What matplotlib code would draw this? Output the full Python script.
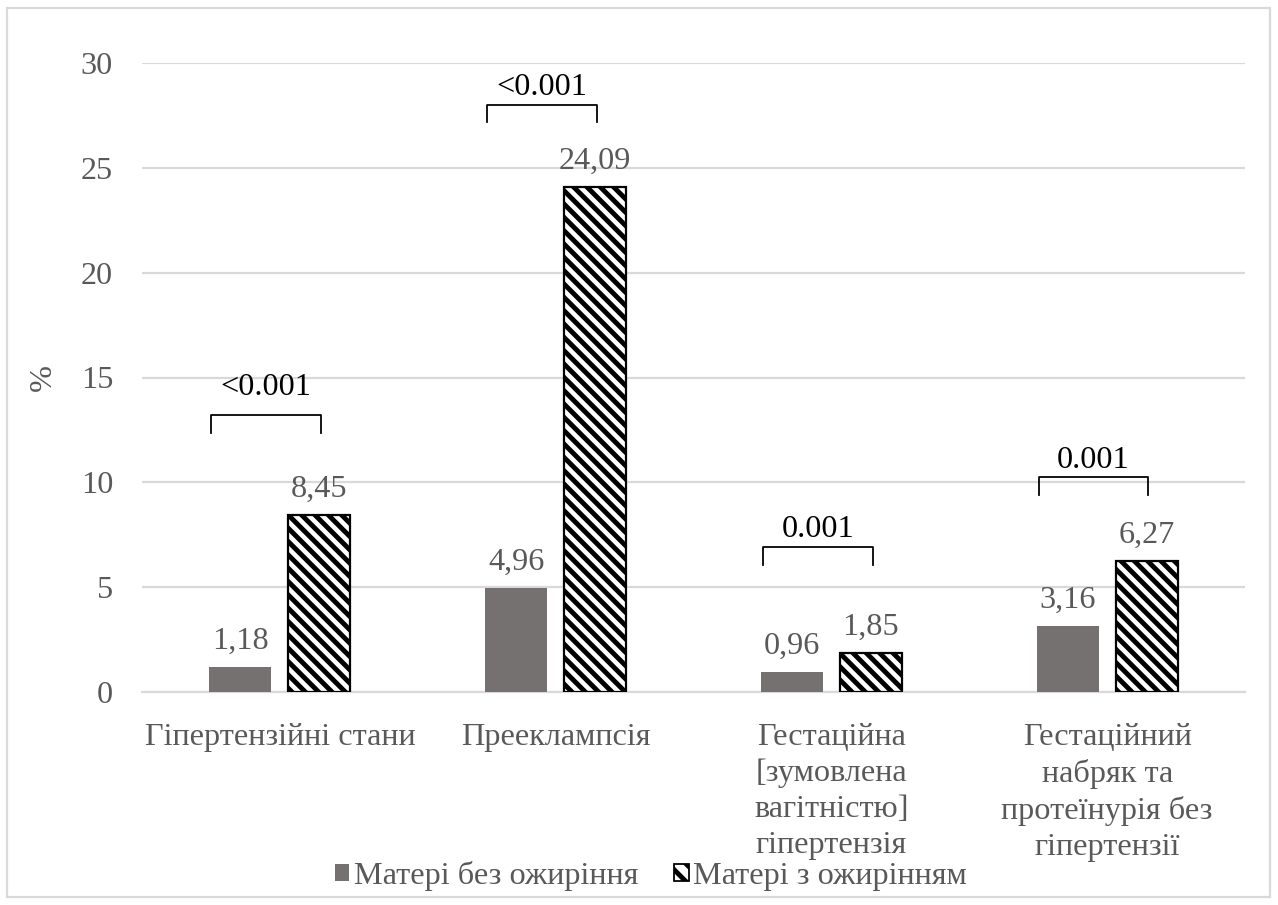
import matplotlib
matplotlib.use("Agg")
import matplotlib.pyplot as plt
from matplotlib.patches import Rectangle, Patch
import numpy as np

# ---- data ----
categories = [
    "Гіпертензійні стани",
    "Прееклампсія",
    "Гестаційна\n[зумовлена\nвагітністю]\nгіпертензія",
    "Гестаційний\nнабряк та\nпротеїнурія без\nгіпертензії",
]
no_obesity = [1.18, 4.96, 0.96, 3.16]
with_obesity = [8.45, 24.09, 1.85, 6.27]
p_values = ["<0.001", "<0.001", "0.001", "0.001"]
bracket_levels = [13.21, 28.02, 6.91, 10.25]
p_text_levels = [14.16, 28.45, 7.39, 10.68]
series_names = ["Матері без ожиріння", "Матері з ожирінням"]
y_ticks = [0, 5, 10, 15, 20, 25, 30]

# ---- style ----
DPI = 160
FS = 14.5
TXT = "#595959"
GRAY = "#767171"
GRID = "#d9d9d9"
HATCH = "\\\\\\\\"
plt.rcParams["font.family"] = ["Liberation Serif", "DejaVu Serif"]
plt.rcParams["hatch.linewidth"] = 2.2
plt.rcParams["hatch.color"] = "black"

fig = plt.figure(figsize=(1278 / DPI, 905 / DPI), dpi=DPI)
fig.patches.append(Rectangle((7 / 1278, 8 / 905), 1 - 15 / 1278, 1 - 16 / 905,
                             transform=fig.transFigure, fill=False,
                             edgecolor=GRID, linewidth=1.0, zorder=0))

ax = fig.add_axes([142 / 1278, 1 - 692 / 905, (1245 - 142) / 1278, (692 - 63) / 905])

x = np.arange(len(categories))
w = 0.225
off = 0.143

b1 = ax.bar(x - off, no_obesity, w, color=GRAY, edgecolor="none", zorder=3)
b2 = ax.bar(x + off, with_obesity, w, facecolor="white", edgecolor="black",
            hatch=HATCH, linewidth=1.0, zorder=3)

for bars, vals in ((b1, no_obesity), (b2, with_obesity)):
    for rect, v in zip(bars, vals):
        ax.annotate(f"{v:.2f}".replace(".", ","),
                    (rect.get_x() + rect.get_width() / 2, v),
                    xytext=(0, 5), textcoords="offset points",
                    ha="center", va="bottom", fontsize=FS, color=TXT)

# significance brackets
drop = 0.85
for xi, lvl, tl, p in zip(x, bracket_levels, p_text_levels, p_values):
    xl, xr = xi - 0.248, xi + 0.15
    ax.plot([xl, xl, xr, xr], [lvl - drop, lvl, lvl, lvl - drop],
            color="black", linewidth=0.8, zorder=4, clip_on=False)
    ax.text((xl + xr) / 2, tl, p, ha="center", va="baseline",
            fontsize=FS, color="black")

ax.set_xlim(-0.5, len(categories) - 0.5)
ax.set_ylim(0, 30)
ax.set_yticks(y_ticks)
ax.set_yticklabels([str(t) for t in y_ticks], fontsize=FS, color=TXT)
ax.set_xticks(x)
ax.set_xticklabels(categories, fontsize=FS, color=TXT, linespacing=1.3,
                   va="top")
ax.tick_params(axis="both", length=0)
ax.tick_params(axis="y", pad=13)
ax.tick_params(axis="x", pad=14)
ax.grid(axis="y", color=GRID, linewidth=1.0, zorder=0)
ax.set_axisbelow(True)
for s in ("top", "right", "left"):
    ax.spines[s].set_visible(False)
ax.spines["bottom"].set_color(GRID)
ax.spines["bottom"].set_linewidth(1.0)

ax.set_ylabel("%", fontsize=FS, color=TXT)
ax.yaxis.set_label_coords((58 - 142) / 1103, 0.5)

handles = [Patch(facecolor=GRAY, edgecolor="none"),
           Patch(facecolor="white", edgecolor="black", hatch="\\\\\\", linewidth=0.8)]
fig.legend(handles, series_names, loc="center", bbox_to_anchor=(651 / 1278, 1 - 876 / 905),
           ncol=2, frameon=False, fontsize=FS, labelcolor=TXT,
           handlelength=0.45, handleheight=0.45, handletextpad=0.15,
           columnspacing=1.1, borderpad=0)

fig.savefig("out.png", dpi=DPI)
